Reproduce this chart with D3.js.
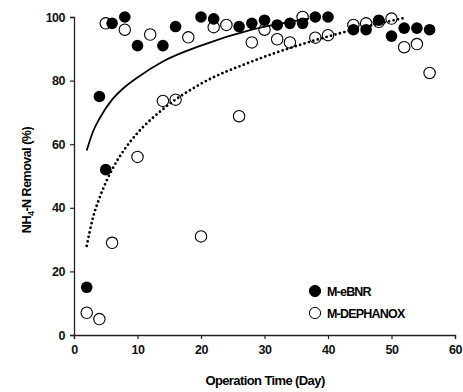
<!DOCTYPE html>
<html>
<head>
<meta charset="utf-8">
<script src="https://cdn.jsdelivr.net/npm/d3@7"></script>
<style>
  body { margin: 0; background: #fff; }
  svg { display: block; font-family: "Liberation Sans", Arial, sans-serif; }
  .tick text { font-size: 12.5px; font-weight: bold; letter-spacing: -0.5px; }
</style>
</head>
<body>
<svg id="chart" width="463" height="392"></svg>
<script>
// M-eBNR (filled)
const ebnrDays = [2, 4, 5, 6, 8, 10, 14, 16, 20, 22, 26, 28, 30, 32, 34, 36, 38, 40, 44, 46, 48, 50, 52, 54, 56];
const ebnrVals = [15, 75, 52, 98, 100, 91, 91, 97, 100, 99.4, 97, 98, 99, 97.5, 98, 98, 100, 100, 96, 96, 99, 94, 96.5, 96.5, 96];

// M-DEPHANOX (open)
const dephDays = [2, 4, 5, 6, 8, 10, 12, 14, 16, 18, 20, 22, 24, 26, 28, 30, 32, 34, 36, 38, 40, 44, 46, 48, 50, 52, 54, 56];
const dephVals = [7, 5, 98, 29, 96, 56, 94.5, 73.6, 74, 93.6, 31, 96.8, 97.5, 68.8, 92, 96, 93, 92, 100, 93.5, 94.3, 97.5, 98, 98.5, 99.5, 90.5, 91.5, 82.4];

// trend lines
const ebnrTrendDays = [2, 3, 4, 6, 8, 10, 14, 20, 28, 37];
const ebnrTrendVals = [58, 64, 68, 74, 78, 81, 86, 91, 96, 99.5];
const dephTrendDays = [2, 3, 4, 6, 8, 10, 14, 20, 28, 36, 44, 52];
const dephTrendVals = [28, 37, 43, 52, 58.5, 63.5, 71, 79, 86, 91.5, 96, 99.7];

const xTicks = [0, 10, 20, 30, 40, 50, 60];
const yTicks = [0, 20, 40, 60, 80, 100];
const seriesNames = ["M-eBNR", "M-DEPHANOX"];

const svg = d3.select('#chart');

const x = d3.scaleLinear().domain([0, 60]).range([74, 455]);
const y = d3.scaleLinear().domain([0, 100]).range([335, 17]);

// axes
const xAxis = svg.append('g')
  .attr('transform', `translate(0,${y(0)})`)
  .call(d3.axisBottom(x).tickValues(xTicks).tickSize(4).tickPadding(6));
const yAxis = svg.append('g')
  .attr('transform', `translate(${x(0)},0)`)
  .call(d3.axisLeft(y).tickValues(yTicks).tickSize(4).tickPadding(5));
[xAxis, yAxis].forEach(a => {
  a.select('.domain').attr('stroke', '#222').attr('stroke-width', 1.3);
  a.selectAll('.tick line').attr('stroke', '#222').attr('stroke-width', 1.2);
  a.selectAll('.tick text').attr('fill', '#111');
});

// axis titles
svg.append('text')
  .attr('x', 265).attr('y', 385)
  .attr('text-anchor', 'middle')
  .attr('font-size', 13).attr('font-weight', 'bold').attr('letter-spacing', '-0.6')
  .text('Operation Time (Day)');

const yt = svg.append('text')
  .attr('transform', 'translate(31,180) rotate(-90)')
  .attr('text-anchor', 'middle')
  .attr('font-size', 12.5).attr('font-weight', 'bold').attr('letter-spacing', '-0.5');
yt.append('tspan').text('NH');
yt.append('tspan').attr('font-size', 9).attr('dy', 3).text('4');
yt.append('tspan').attr('dy', -3).text('-N Removal (%)');

// trend lines
const line = d3.line().curve(d3.curveMonotoneX);
svg.append('path')
  .attr('d', line(ebnrTrendDays.map((d, i) => [x(d), y(ebnrTrendVals[i])])))
  .attr('fill', 'none').attr('stroke', '#000').attr('stroke-width', 1.8);
svg.append('path')
  .attr('d', line(dephTrendDays.map((d, i) => [x(d), y(dephTrendVals[i])])))
  .attr('fill', 'none').attr('stroke', '#000').attr('stroke-width', 2.8)
  .attr('stroke-linecap', 'round').attr('stroke-dasharray', '0 4.6');

// points
svg.append('g').selectAll('circle')
  .data(ebnrDays)
  .join('circle')
  .attr('cx', d => x(d))
  .attr('cy', (d, i) => y(ebnrVals[i]))
  .attr('r', 5.8)
  .attr('fill', '#000');

svg.append('g').selectAll('circle')
  .data(dephDays)
  .join('circle')
  .attr('cx', d => x(d))
  .attr('cy', (d, i) => y(dephVals[i]))
  .attr('r', 5.7)
  .attr('fill', 'none')
  .attr('stroke', '#000')
  .attr('stroke-width', 1.1);

// legend
const legend = svg.append('g').attr('transform', 'translate(315,291)');
seriesNames.forEach((name, i) => {
  const g = legend.append('g').attr('transform', `translate(0,${i * 22})`);
  g.append('circle').attr('r', 5.6)
    .attr('fill', i === 0 ? '#000' : '#fff')
    .attr('stroke', '#000').attr('stroke-width', 1);
  g.append('text').attr('x', 12).attr('y', 4.5)
    .attr('font-size', 12.5).attr('font-weight', 'bold').attr('letter-spacing', '-0.8')
    .text(name);
});
</script>
</body>
</html>
